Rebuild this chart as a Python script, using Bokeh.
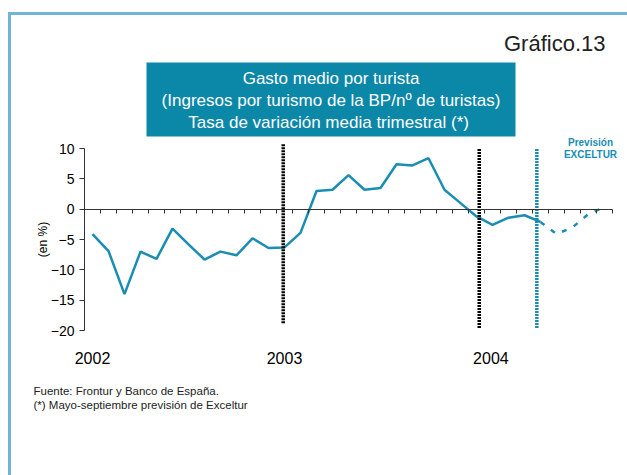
import math
from bokeh.plotting import figure
from bokeh.models import Range1d, LinearAxis, FixedTicker, Label, BoxAnnotation
from bokeh.embed import file_html
from bokeh.resources import INLINE

# ---- data (monthly, Jan 2002 .. Sep 2004) ----
months = list(range(33))
actual = [-4.1, -6.9, -14.0, -7.0, -8.2, -3.2, -5.8, -8.3, -7.0, -7.6, -4.8, -6.4,
          -6.3, -3.9, 3.0, 3.2, 5.6, 3.2, 3.5, 7.4, 7.2, 8.4, 3.2, 1.0,
          -1.2, -2.6, -1.4, -1.0, -2.1]
forecast = [-2.1, -4.1, -3.0, -0.8, 0.35]
actual_x = months[:len(actual)]
forecast_x = months[len(actual) - 1:]
year_labels = ["2002", "2003", "2004"]
year_pos = [0, 12, 24.9]
y_ticks = [-20, -15, -10, -5, 0, 5, 10]
black_lines_x = [11.92, 24.17]
black_lines_top = [10.7, 9.9]
black_lines_bottom = [-18.8, -19.6]
forecast_line_x = [27.77]
forecast_line_top = [9.9]
forecast_line_bottom = [-19.6]

TEAL = "#1A8DB3"
BOX = "#0B87A8"
FONT = "Liberation Sans"

# ---- layout (pixels) ----
W, H = 627, 475
FL, FT, FB = 33, 10, 425          # frame left / top / bottom
PXX = 16.0                         # px per month
PXY = 182.0 / 30.0                 # px per percentage point
AX_X = 84                          # y-axis position on page
Y10_PX = 148                       # page y of value 10
zero_px = Y10_PX + 10 * PXY
x_start = (months[0] - 0.5) - (AX_X - FL) / PXX
x_end = x_start + (W - FL) / PXX
y_end = (zero_px - FT) / PXY
y_start = -(FB - zero_px) / PXY

p = figure(width=W, height=H,
           x_range=Range1d(x_start, x_end), y_range=Range1d(y_start, y_end),
           x_axis_type=None, output_backend="svg", toolbar_location=None,
           min_border_left=FL, min_border_right=0,
           min_border_top=FT, min_border_bottom=H - FB)
p.outline_line_color = None
p.ygrid.grid_line_color = None
p.background_fill_color = None
p.border_fill_color = None
p.styles = {
    "background-color": "white",
    "background-image": "linear-gradient(#72B3DA, #72B3DA), linear-gradient(#72B3DA, #72B3DA)",
    "background-size": "3px 470px, 625px 3px",
    "background-position": "8px 12px, 8px 12px",
    "background-repeat": "no-repeat",
}

# y axis, placed at the left edge of the first month
ya = p.yaxis[0]
ya.fixed_location = months[0] - 0.5
ya.ticker = FixedTicker(ticks=y_ticks)
ya.bounds = (y_ticks[0], y_ticks[-1])
ya.major_tick_out = 5
ya.major_tick_in = 0
ya.minor_tick_out = 0
ya.minor_tick_in = 0
ya.major_label_text_font = FONT
ya.major_label_text_font_size = "14px"
ya.major_label_text_color = "black"
ya.major_label_standoff = 5
ya.axis_line_color = "#333333"
ya.major_tick_line_color = "#333333"

# zero-line axis with month-boundary ticks
bounds_ticks = [m - 0.5 for m in months] + [months[-1] + 0.5]
zx = LinearAxis(fixed_location=0, bounds=(bounds_ticks[0], bounds_ticks[-1]),
                ticker=FixedTicker(ticks=[], minor_ticks=bounds_ticks),
                major_tick_out=0, major_tick_in=0, minor_tick_out=4, minor_tick_in=0,
                axis_line_color="#333333", minor_tick_line_color="#333333",
                major_tick_line_color=None)
p.add_layout(zx, "below")

# year labels axis at the bottom of the value range
yx = LinearAxis(fixed_location=y_ticks[0], ticker=FixedTicker(ticks=year_pos),
                major_label_overrides={pos: lab for pos, lab in zip(year_pos, year_labels)},
                axis_line_color=None, major_tick_line_color=None,
                minor_tick_line_color=None,
                major_label_text_font=FONT, major_label_text_font_size="16px",
                major_label_text_color="black", major_label_standoff=15)
p.add_layout(yx, "below")

# series
p.line(actual_x, actual, line_color=TEAL, line_width=2.5)
p.line(forecast_x, forecast, line_color=TEAL, line_width=2.5, line_dash="5 8")

# vertical dotted markers
p.segment(x0=black_lines_x, x1=black_lines_x, y0=black_lines_bottom, y1=black_lines_top,
          line_color="black", line_width=3.5, line_dash="2 1")
p.segment(x0=forecast_line_x, x1=forecast_line_x, y0=forecast_line_bottom, y1=forecast_line_top,
          line_color=TEAL, line_width=3.5, line_dash="2 1")

def canvas_label(x, y, text, **kw):
    p.add_layout(Label(x=x, y=y, x_units="canvas", y_units="canvas", text=text,
                       text_font=FONT, **kw))

# y axis title
canvas_label(42, 239, "(en %)", angle=math.pi / 2, text_align="center",
             text_baseline="middle", text_font_size="12px", text_color="black")

# title box
p.add_layout(BoxAnnotation(left=146, right=515, top=62, bottom=136,
                           left_units="canvas", right_units="canvas",
                           top_units="canvas", bottom_units="canvas",
                           fill_color=BOX, fill_alpha=1, line_color=None))
title_lines = ["Gasto medio por turista",
               "(Ingresos por turismo de la BP/nº de turistas)",
               "Tasa de variación  media trimestral (*)"]
for i, t in enumerate(title_lines):
    canvas_label(330.5, 78 + 22 * i, t, text_align="center", text_baseline="middle",
                 text_font_size="17px", text_color="white")

canvas_label(605, 43, "Gráfico.13", text_align="right", text_baseline="alphabetic",
             text_font_size="22px", text_color="#222222")

for i, t in enumerate(["Previsión", "EXCELTUR"]):
    canvas_label(590, 142 + 12 * i, t, text_align="center", text_baseline="middle",
                 text_font_size="10px", text_font_style="bold", text_color=TEAL)

for i, t in enumerate(["Fuente: Frontur y Banco de España.",
                       "(*) Mayo-septiembre previsión de Exceltur"]):
    canvas_label(33, 390 + 14 * i, t, text_align="left", text_baseline="middle",
                 text_font_size="11.5px", text_color="#222222")

open("out.html", "w").write(file_html(p, INLINE))
